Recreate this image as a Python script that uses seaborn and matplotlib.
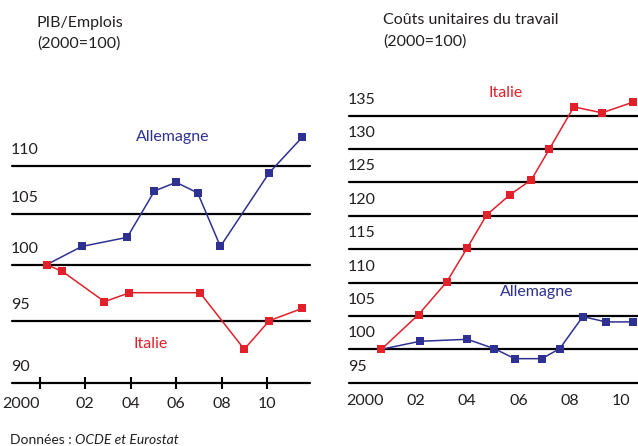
import matplotlib
matplotlib.use('Agg')
import matplotlib.pyplot as plt
import matplotlib.transforms as mtransforms
import seaborn as sns
import pandas as pd
import numpy as np

# PIB/Emplois (2000=100)
pib_de_years = [2000.3, 2001.85, 2003.85, 2005.05, 2006.0, 2006.95, 2007.95, 2010.1, 2011.55]
pib_de = [100.0, 101.8, 102.7, 107.4, 108.3, 107.2, 101.8, 109.3, 113.0]
pib_it_years = [2000.3, 2001.0, 2002.85, 2003.95, 2007.05, 2009.0, 2010.1, 2011.55]
pib_it = [100.0, 99.4, 96.7, 97.5, 97.5, 92.7, 95.0, 96.1]

# Couts unitaires du travail (2000=100)
clu_de_years = [2000.65, 2002.15, 2004.0, 2005.05, 2005.85, 2006.9, 2007.6, 2008.5, 2009.4, 2010.45]
clu_de = [100.0, 101.2, 101.5, 100.1, 98.6, 98.6, 100.1, 104.9, 104.1, 104.1]
clu_it_years = [2000.65, 2002.1, 2003.2, 2004.0, 2004.75, 2005.65, 2006.5, 2007.2, 2008.15, 2009.25, 2010.45]
clu_it = [100.0, 105.2, 110.1, 115.2, 120.1, 123.1, 125.4, 130.0, 136.3, 135.4, 137.0]

year_ticks = [2000, 2002, 2004, 2006, 2008, 2010]
year_labels = ['2000', '02', '04', '06', '08', '10']
pib_levels = [90, 95, 100, 105, 110]
clu_levels = [95, 100, 105, 110, 115, 120, 125, 130, 135]

# the left panel's vertical axis is not evenly spaced in the original
pib_scale_vals = [85, 90, 95, 100, 105, 110, 115]
pib_scale_pos = [-62, 0, 62, 118, 168.7, 216.7, 264.7]

BLUE = '#2e3192'
RED = '#e2202a'
TXT = '#231f20'

sns.set_style('white')
plt.rcParams['font.family'] = ['Lato', 'DejaVu Sans']
plt.rcParams['font.size'] = 11

fig = plt.figure(figsize=(6.38, 4.46), dpi=100)
ax1 = fig.add_axes([0.0188, 0.1419, 0.467, 0.5935])
ax2 = fig.add_axes([0.547, 0.1419, 0.453, 0.644])

ax1.set_yscale('function', functions=(
    lambda v: np.interp(v, pib_scale_vals, pib_scale_pos),
    lambda p: np.interp(p, pib_scale_pos, pib_scale_vals)))

pib = pd.concat([
    pd.DataFrame({'annee': pib_de_years, 'indice': pib_de, 'pays': 'Allemagne'}),
    pd.DataFrame({'annee': pib_it_years, 'indice': pib_it, 'pays': 'Italie'}),
])
clu = pd.concat([
    pd.DataFrame({'annee': clu_de_years, 'indice': clu_de, 'pays': 'Allemagne'}),
    pd.DataFrame({'annee': clu_it_years, 'indice': clu_it, 'pays': 'Italie'}),
])
palette = {'Allemagne': BLUE, 'Italie': RED}


def draw_panel(ax, data, levels, ylim, xlim):
    for v in levels:
        ax.axhline(v, color='black', lw=1.6, zorder=1, clip_on=False)
    sns.lineplot(data=data, x='annee', y='indice', hue='pays', palette=palette,
                 marker='s', markersize=5.5, markeredgewidth=0, lw=1.1,
                 ax=ax, legend=False, zorder=3)
    ax.set_xlim(*xlim)
    ax.set_ylim(*ylim)
    ax.set_xlabel('')
    ax.set_ylabel('')
    ax.set_yticks([])
    ax.minorticks_off()
    ax.set_xticks(year_ticks, year_labels, color=TXT)
    for s in ax.spines.values():
        s.set_visible(False)
    trans = mtransforms.offset_copy(ax.get_yaxis_transform(), fig=fig, x=-1, y=9, units='dots')
    for v in levels:
        ax.text(0, v, str(v), transform=trans, ha='left', va='bottom', color=TXT, fontsize=11.5)


draw_panel(ax1, pib, pib_levels, (90, 115), (1998.78, 2011.89))
draw_panel(ax2, clu, clu_levels, (95, 138), (1999.39, 2010.65))

ax1.tick_params(axis='x', bottom=True, direction='inout', length=8, width=1.5,
                color='black', pad=6, labelsize=11.5)
ax2.tick_params(axis='x', length=0, pad=8, labelsize=11.5)
ax1.get_xticklabels()[0].set_ha('right')

ax1.text(2005.84, 113.05, 'Allemagne', color=BLUE, ha='center', va='center', fontsize=11.5)
ax1.text(2004.9, 93.1, 'Italie', color=RED, ha='center', va='center', fontsize=11.5)
ax2.text(2005.5, 138.3, 'Italie', color=RED, ha='center', va='center', fontsize=11.5)
ax2.text(2006.7, 108.65, 'Allemagne', color=BLUE, ha='center', va='center', fontsize=11.5)

fig.text(37 / 638, 1 - 16 / 446, 'PIB/Emplois', ha='left', va='top', color=TXT, fontsize=11.5)
fig.text(37 / 638, 1 - 36 / 446, '(2000=100)', ha='left', va='top', color=TXT, fontsize=11.5)
fig.text(383 / 638, 1 - 13 / 446, 'Coûts unitaires du travail', ha='left', va='top', color=TXT, fontsize=11.5)
fig.text(383 / 638, 1 - 34 / 446, '(2000=100)', ha='left', va='top', color=TXT, fontsize=11.5)

src = fig.text(10 / 638, 1 - 444 / 446, 'Données : ', ha='left', va='baseline', color=TXT, fontsize=10)
fig.canvas.draw()
bb = src.get_window_extent()
fig.text(bb.x1 / 638, 1 - 444 / 446, 'OCDE et Eurostat', ha='left', va='baseline',
         color=TXT, fontsize=10, style='italic')

fig.savefig('out.png', dpi=100)
